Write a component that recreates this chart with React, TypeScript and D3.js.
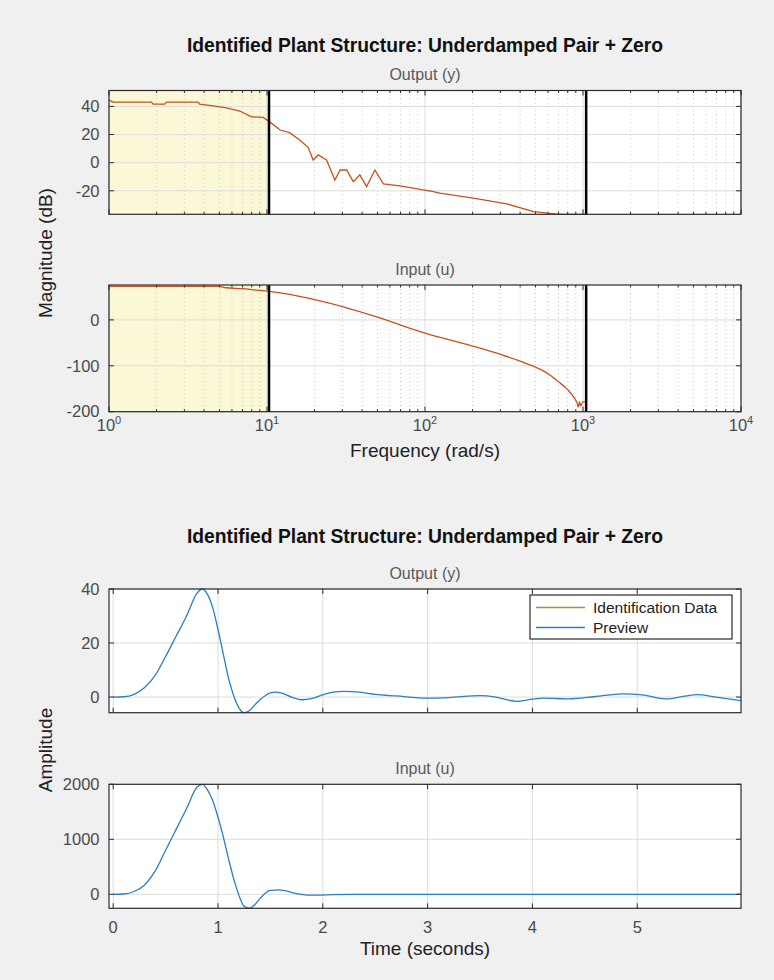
import React from "react";
import * as d3 from "d3";

const width = 774;
const height = 980;
const font = "'Liberation Sans', Arial, sans-serif";

const figureTitle = "Identified Plant Structure: Underdamped Pair + Zero";

// Bode magnitude, output (y)
const outFreq = [1.0, 1.06, 1.86, 1.9, 2.25, 2.31, 3.66, 3.75, 4.56, 5.54, 6.73, 7.98, 9.46, 10.4, 12.1, 13.9, 16.1, 18.2, 19.6, 21.1, 23.8, 26.9, 29.0, 31.9, 35.2, 38.7, 42.7, 48.2, 54.5, 69.5, 113, 124, 202, 330, 486, 699, 850, 1047];
const outMagDb = [44.5, 43, 43, 41.6, 41.6, 43, 43, 41.6, 40.4, 39, 36.7, 32.6, 32.2, 29, 23.2, 21.3, 16.1, 10.9, 1.9, 5.5, 1.9, -12.3, -5.2, -5.2, -13.5, -8.7, -17, -5.2, -15.1, -16.5, -20.6, -21.7, -25.2, -29.3, -34.8, -37, -39, -40];

// Bode magnitude, input (u)
const inFreq = [1, 5, 5.5, 7, 8.5, 10.3, 13, 20, 30, 50, 100, 200, 300, 400, 500, 600, 700, 800, 880, 920, 935, 950, 965, 1000, 1047];
const inMagDb = [73, 73, 70, 68, 65, 62, 57, 44, 29, 6, -29, -57, -75, -90, -103, -117, -135, -152, -170, -182, -190, -178, -188, -178, -178];

const freqTicks = [1, 10, 100, 1000, 10000];
const freqTickExp = ["0", "1", "2", "3", "4"];
const outDbTicks = [-20, 0, 20, 40];
const inDbTicks = [-200, -100, 0];
const fitBand = [1, 10.3];
const markerFreqs = [10.3, 1047];

// time response, output (y)
const outTime = [0, 0.1, 0.2, 0.3, 0.4, 0.5, 0.6, 0.7, 0.8, 0.85, 0.9, 0.95, 1.0, 1.05, 1.1, 1.15, 1.2, 1.25, 1.3, 1.35, 1.4, 1.45, 1.5, 1.55, 1.6, 1.7, 1.8, 1.9, 2.0, 2.1, 2.2, 2.35, 2.5, 2.7, 3.0, 3.2, 3.5, 3.65, 3.85, 4.0, 4.1, 4.35, 4.6, 4.86, 5.05, 5.28, 5.45, 5.57, 5.75, 5.99];
const outAmp = [0, 0.1, 1, 3.5, 8, 15, 22.5, 30, 38.5, 40, 38, 33, 25, 16, 7, 0.5, -4, -5.8, -5, -3, -1, 0.5, 1.5, 1.8, 1.5, 0, -1, -0.5, 0.8, 1.8, 2.1, 1.8, 1, 0.4, -0.4, -0.2, 0.5, 0, -1.6, -0.8, -0.4, -0.7, 0.2, 1.2, 0.8, -0.7, 0.3, 0.9, 0, -1.3];

// time response, input (u)
const inTime = [0, 0.1, 0.2, 0.3, 0.4, 0.5, 0.6, 0.7, 0.8, 0.85, 0.9, 0.95, 1.0, 1.05, 1.1, 1.15, 1.2, 1.25, 1.3, 1.35, 1.4, 1.45, 1.5, 1.58, 1.65, 1.75, 1.85, 1.95, 2.1, 2.3, 5.99];
const inAmp = [0, 5, 50, 170, 420, 800, 1180, 1560, 1950, 2000, 1900, 1700, 1400, 1050, 650, 280, -20, -220, -250, -190, -80, 20, 70, 80, 60, 10, -15, -15, -5, 0, 0];

const timeTicks = [0, 1, 2, 3, 4, 5];
const outAmpTicks = [0, 20, 40];
const inAmpTicks = [0, 1000, 2000];

const legendLabels = ["Identification Data", "Preview"];
const legendColors = ["#77AC30", "#2a7fc0"];

const bodeColor = "#c4521f";
const gridColor = "#dcdcdc";
const axisColor = "#2b2b2b";
const tickTextColor = "#4a4a4a";

const tickFont = 16.5;
const labelFont = 19;
const titleFont = 19.3;
const subtitleFont = 16;

const left = 109;
const right = 741;

const freqScale = d3.scaleLog().domain([1, 10000]).range([left, right]);
const timeScale = d3.scaleLinear().domain([-0.04, 5.99]).range([left, right]);

function Axes({ top, bottom, xScale, yScale, xTicks, yTicks, minorX, subtitle, children }) {
  const tickLen = 5;
  return (
    <g>
      <text x={(left + right) / 2} y={top - 10.5} textAnchor="middle" fontSize={subtitleFont} fill="#5a5a5a" fontFamily={font}>
        {subtitle}
      </text>
      <rect x={left} y={top} width={right - left} height={bottom - top} fill="#fff" />
      {children && children.background}
      {minorX.map((t, i) => (
        <line key={"mx" + i} x1={xScale(t)} x2={xScale(t)} y1={top} y2={bottom} stroke="#c8c8c8" strokeDasharray="1,3" />
      ))}
      {xTicks.map((t, i) => (
        <line key={"gx" + i} x1={xScale(t)} x2={xScale(t)} y1={top} y2={bottom} stroke={gridColor} />
      ))}
      {yTicks.map((t, i) => (
        <line key={"gy" + i} x1={left} x2={right} y1={yScale(t)} y2={yScale(t)} stroke={gridColor} />
      ))}
      {children && children.marks}
      <rect x={left} y={top} width={right - left} height={bottom - top} fill="none" stroke={axisColor} strokeWidth={1.2} />
      {xTicks.map((t, i) => (
        <g key={"tx" + i}>
          <line x1={xScale(t)} x2={xScale(t)} y1={bottom} y2={bottom - tickLen} stroke={axisColor} />
          <line x1={xScale(t)} x2={xScale(t)} y1={top} y2={top + tickLen} stroke={axisColor} />
        </g>
      ))}
      {minorX.map((t, i) => (
        <g key={"mtx" + i}>
          <line x1={xScale(t)} x2={xScale(t)} y1={bottom} y2={bottom - 2.5} stroke={axisColor} />
          <line x1={xScale(t)} x2={xScale(t)} y1={top} y2={top + 2.5} stroke={axisColor} />
        </g>
      ))}
      {yTicks.map((t, i) => (
        <g key={"ty" + i}>
          <line x1={left} x2={left + tickLen} y1={yScale(t)} y2={yScale(t)} stroke={axisColor} />
          <line x1={right} x2={right - tickLen} y1={yScale(t)} y2={yScale(t)} stroke={axisColor} />
          <text x={left - 9.5} y={yScale(t)} dy="0.35em" textAnchor="end" fontSize={tickFont} fill={tickTextColor} fontFamily={font}>
            {t}
          </text>
        </g>
      ))}
    </g>
  );
}

export default function App() {
  const bode1 = { top: 90.5, bottom: 214.3 };
  const bode2 = { top: 285, bottom: 411.7 };
  const time1 = { top: 589, bottom: 712.7 };
  const time2 = { top: 784.3, bottom: 908.3 };

  const yOutDb = d3.scaleLinear().domain([-36.7, 51.3]).range([bode1.bottom, bode1.top]).clamp(true);
  const yInDb = d3.scaleLinear().domain([-200, 76]).range([bode2.bottom, bode2.top]).clamp(true);
  const yOutAmp = d3.scaleLinear().domain([-5.8, 40]).range([time1.bottom, time1.top]);
  const yInAmp = d3.scaleLinear().domain([-255, 2000]).range([time2.bottom, time2.top]);

  const minorFreq = freqScale.ticks().filter((f) => !freqTicks.includes(f));

  const bodeLine = (ys) =>
    d3
      .line()
      .x((d) => freqScale(d[0]))
      .y((d) => ys(d[1]));
  const timeLine = (ys) =>
    d3
      .line()
      .x((d) => timeScale(d[0]))
      .y((d) => ys(d[1]))
      .curve(d3.curveMonotoneX);

  const outBodePath = bodeLine(yOutDb)(outFreq.map((f, i) => [f, outMagDb[i]]));
  const inBodePath = bodeLine(yInDb).curve(d3.curveMonotoneX)(inFreq.map((f, i) => [f, inMagDb[i]]));
  const outTimePath = timeLine(yOutAmp)(outTime.map((t, i) => [t, outAmp[i]]));
  const inTimePath = timeLine(yInAmp)(inTime.map((t, i) => [t, inAmp[i]]));

  const band = (p) => (
    <rect
      x={freqScale(fitBand[0])}
      y={p.top}
      width={freqScale(fitBand[1]) - freqScale(fitBand[0])}
      height={p.bottom - p.top}
      fill="#fbf8d8"
    />
  );
  const markers = (p) =>
    markerFreqs.map((f, i) => (
      <line key={"mk" + i} x1={freqScale(f)} x2={freqScale(f)} y1={p.top} y2={p.bottom} stroke="#000" strokeWidth={2.5} />
    ));

  const legendX = 530;
  const legendY = 595;

  return (
    <svg width={width} height={height} style={{ position: "absolute", left: 0, top: 0, display: "block" }}>
      <rect x={0} y={0} width={width} height={height} fill="#f0f0f0" />

      {/* frequency domain */}
      <text x={(left + right) / 2} y={51.5} textAnchor="middle" fontSize={titleFont} fontWeight="bold" fill="#111" fontFamily={font}>
        {figureTitle}
      </text>
      <Axes top={bode1.top} bottom={bode1.bottom} xScale={freqScale} yScale={yOutDb} xTicks={freqTicks} yTicks={outDbTicks} minorX={minorFreq} subtitle="Output (y)">
        {{
          background: band(bode1),
          marks: (
            <g>
              <path d={outBodePath} fill="none" stroke={bodeColor} strokeWidth={1.3} />
              {markers(bode1)}
            </g>
          ),
        }}
      </Axes>
      <Axes top={bode2.top} bottom={bode2.bottom} xScale={freqScale} yScale={yInDb} xTicks={freqTicks} yTicks={inDbTicks} minorX={minorFreq} subtitle="Input (u)">
        {{
          background: band(bode2),
          marks: (
            <g>
              <path d={inBodePath} fill="none" stroke={bodeColor} strokeWidth={1.3} />
              {markers(bode2)}
            </g>
          ),
        }}
      </Axes>
      {freqTicks.map((f, i) => (
        <text key={"fl" + i} x={freqScale(f)} y={431} textAnchor="middle" fontSize={tickFont} fill={tickTextColor} fontFamily={font}>
          <tspan>10</tspan>
          <tspan dy={-7} fontSize={11}>{freqTickExp[i]}</tspan>
        </text>
      ))}
      <text x={(left + right) / 2} y={457} textAnchor="middle" fontSize={labelFont} fill="#222" fontFamily={font}>
        Frequency  (rad/s)
      </text>
      <text transform="translate(52,253) rotate(-90)" textAnchor="middle" fontSize={labelFont} fill="#222" fontFamily={font}>
        Magnitude (dB)
      </text>

      {/* time domain */}
      <text x={(left + right) / 2} y={543} textAnchor="middle" fontSize={titleFont} fontWeight="bold" fill="#111" fontFamily={font}>
        {figureTitle}
      </text>
      <Axes top={time1.top} bottom={time1.bottom} xScale={timeScale} yScale={yOutAmp} xTicks={timeTicks} yTicks={outAmpTicks} minorX={[]} subtitle="Output (y)">
        {{
          background: null,
          marks: <path d={outTimePath} fill="none" stroke={legendColors[1]} strokeWidth={1.3} />,
        }}
      </Axes>
      <Axes top={time2.top} bottom={time2.bottom} xScale={timeScale} yScale={yInAmp} xTicks={timeTicks} yTicks={inAmpTicks} minorX={[]} subtitle="Input (u)">
        {{
          background: null,
          marks: <path d={inTimePath} fill="none" stroke={legendColors[1]} strokeWidth={1.3} />,
        }}
      </Axes>
      {timeTicks.map((t, i) => (
        <text key={"tl" + i} x={timeScale(t)} y={933} textAnchor="middle" fontSize={tickFont} fill={tickTextColor} fontFamily={font}>
          {t}
        </text>
      ))}
      <text x={(left + right) / 2} y={955} textAnchor="middle" fontSize={labelFont} fill="#222" fontFamily={font}>
        Time (seconds)
      </text>
      <text transform="translate(52,750) rotate(-90)" textAnchor="middle" fontSize={labelFont} fill="#222" fontFamily={font}>
        Amplitude
      </text>

      {/* legend */}
      <rect x={legendX} y={legendY} width={202} height={44} fill="#fff" stroke={axisColor} strokeWidth={1.2} />
      {legendLabels.map((lab, i) => (
        <g key={"lg" + i}>
          <line x1={legendX + 6} x2={legendX + 55} y1={legendY + 12.5 + i * 20} y2={legendY + 12.5 + i * 20} stroke={legendColors[i]} strokeWidth={1.5} />
          <text x={legendX + 63} y={legendY + 12.5 + i * 20} dy="0.35em" fontSize={15.5} fill="#222" fontFamily={font}>
            {lab}
          </text>
        </g>
      ))}
    </svg>
  );
}
